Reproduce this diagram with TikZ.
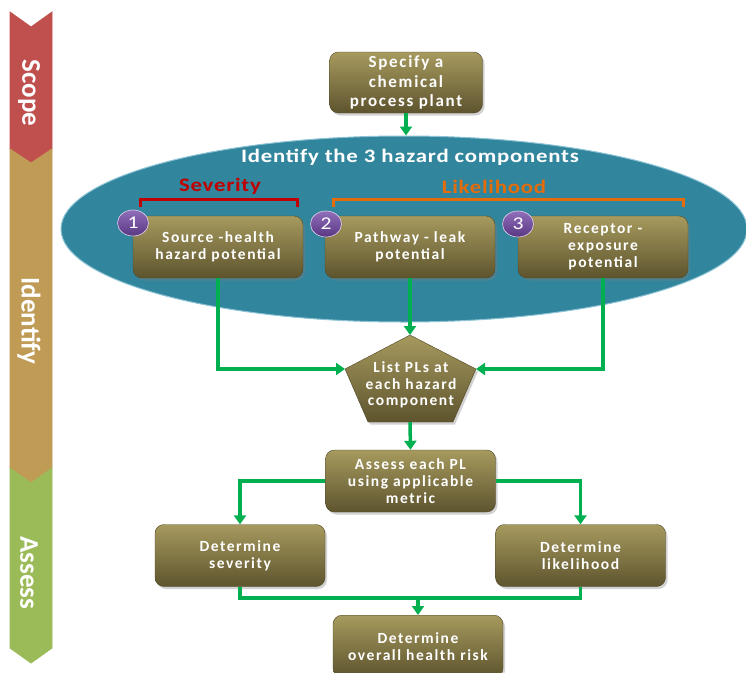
\documentclass[tikz,border=0pt]{standalone}
\usepackage{fontspec}
\setmainfont{Carlito}
\newfontfamily\boxfont[LetterSpace=10]{Carlito}
\newfontfamily\hdrfont[FakeStretch=1.2,LetterSpace=4]{Carlito}
\usetikzlibrary{arrows.meta,shapes.geometric,shadows}
\definecolor{oltop}{RGB}{166,154,94}
\definecolor{olbot}{RGB}{94,84,46}
\definecolor{tealA}{RGB}{49,133,156}
\definecolor{grn}{RGB}{0,176,80}
\definecolor{sevred}{RGB}{192,0,0}
\definecolor{likor}{RGB}{228,108,10}
\definecolor{barred}{RGB}{192,80,77}
\definecolor{bartan}{RGB}{192,155,86}
\definecolor{bargrn}{RGB}{155,187,89}
\definecolor{purtop}{RGB}{145,110,185}
\definecolor{purbot}{RGB}{90,55,130}
\begin{document}
\begin{tikzpicture}[x=1pt,y=-1pt,
  box/.style={rectangle,rounded corners=9pt,top color=oltop,bottom color=olbot,
    draw=olbot!85!black,line width=0.4pt,text=white,
    font=\boxfont\bfseries\fontsize{15.5}{17}\selectfont,align=center,
    minimum width=170pt,minimum height=62pt,inner sep=2pt,
    drop shadow={opacity=0.35,shadow xshift=2pt,shadow yshift=-2.5pt}},
  numc/.style={ellipse,minimum width=31pt,minimum height=26pt,inner sep=0pt,
    top color=purtop,bottom color=purbot,draw=white!70!purtop,line width=0.6pt,
    text=white,font=\hdrfont\fontsize{18}{18}\selectfont},
  conn/.style={draw=grn,line width=3.5pt,-{Triangle[width=12pt,length=9pt]}},
  gline/.style={draw=grn,line width=3.5pt},
  barlabel/.style={rotate=-90,text=white,font=\bfseries\fontsize{27}{27}\selectfont},
  bar/.style={draw=white,line width=0.8pt},
  hdr/.style={font=\hdrfont\bfseries\fontsize{19}{19}\selectfont}
]
\useasboundingbox (0,0) rectangle (746,672);
\fill[white] (0,0) rectangle (746,672);

% left phase bar
\fill[bar,barred] (10,12) -- (31,27) -- (52,12) -- (52,149) -- (31,163) -- (10,149) -- cycle;
\fill[bar,bartan] (10,149) -- (31,163) -- (52,149) -- (52,468) -- (31,483) -- (10,468) -- cycle;
\fill[bar,bargrn] (10,468) -- (31,483) -- (52,468) -- (52,648) -- (31,663) -- (10,648) -- cycle;
\node[barlabel] (lscope) at (29,93) {Scope};
\node[barlabel] (lident) at (29,321) {Identify};
\node[barlabel] (lassess) at (29,573) {Assess};

% ellipse
\node[ellipse,fill=tealA,draw={rgb,255:red,140;green,195;blue,212},line width=1pt,
  minimum width=686pt,minimum height=186pt] (ell) at (404,229) {};
\node[hdr,text=white] (title) at (410,157) {Identify the 3 hazard components};
\node[hdr,text=sevred] (sevl) at (220,186) {Severity};
\node[hdr,text=likor] (likl) at (494,187) {Likelihood};
\draw[sevred,line width=3pt] (140,207) -- (140,199) -- (297,199) -- (297,207);
\draw[likor,line width=3pt] (333,207) -- (333,199) -- (683,199) -- (683,207);

% nodes
\node[box,minimum width=153pt,minimum height=61pt,font=\boxfont\bfseries\fontsize{17}{19.5}\selectfont] (spec) at (406,82.5)
  {Specify a\\chemical\\process plant};
\node[box] (b1) at (218,247) {Source -health\\hazard potential};
\node[box] (b2) at (410,247) {Pathway - leak\\potential};
\node[box] (b3) at (603,247) {Receptor -\\exposure\\potential};
\node[numc] (n1) at (133,223) {1};
\node[numc] (n2) at (326,224) {2};
\node[numc] (n3) at (518,224) {3};

% pentagon
\coordinate (pT) at (410,335);
\coordinate (pR) at (476,369);
\coordinate (pBR) at (453,422);
\coordinate (pB) at (410,422);
\coordinate (pBL) at (368,422);
\coordinate (pL) at (345,369);
\path[top color=oltop,bottom color=olbot,draw=olbot!85!black,line width=0.4pt,
  drop shadow={opacity=0.35,shadow xshift=2pt,shadow yshift=-2.5pt}]
  (pT) -- (pR) -- (pBR) -- (pBL) -- (pL) -- cycle;
\node[text=white,align=center,font=\boxfont\bfseries\fontsize{15.5}{16.5}\selectfont] (pl) at (411,385)
  {List PLs at\\each hazard\\component};

\node[box] (assess) at (410.5,481) {Assess each PL\\using applicable\\metric};
\node[box] (sev) at (240,555.5) {Determine\\severity};
\node[box] (lik) at (580.5,555.5) {Determine\\likelihood};
\node[box,anchor=north] (overall) at (418,615) {Determine\\overall health risk};
\coordinate (jn) at (418,598);

% connectors
\draw[conn] (spec.south) -- (spec.south |- ell.north);
\draw[conn] (b1.south) |- (pL);
\draw[conn] (b2.south) -- (pT);
\draw[conn] (b3.south) |- (pR);
\draw[conn] (pB) -- (assess.north);
\draw[conn] (assess.west) -| (sev.north);
\draw[conn] (assess.east) -| (lik.north);
\draw[gline] (sev.south) |- (jn) -| (lik.south);
\draw[conn] (jn) -- (overall.north);
\end{tikzpicture}
\end{document}
